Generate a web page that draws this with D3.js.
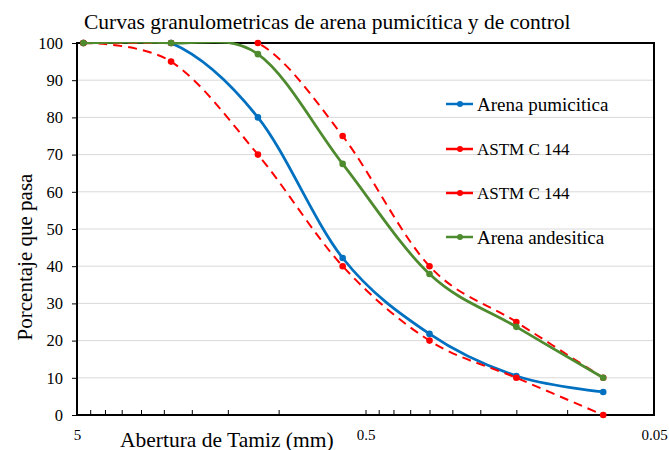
<!DOCTYPE html>
<html><head><meta charset="utf-8">
<script src="https://cdn.jsdelivr.net/npm/d3@7"></script>
<style>body{margin:0;background:#fff}svg{display:block}</style>
</head><body>
<svg id="c" width="669" height="450"></svg>
<script>
const sieves = [4.75, 2.36, 1.18, 0.6, 0.3, 0.15, 0.075];
const pumicitica = [100, 100, 80, 42.2, 21.8, 10.5, 6.2];
const astmLower = [100, 95, 70, 40, 20, 10, 0];
const astmUpper = [100, 100, 100, 75, 40, 25, 10];
const andesitica = [100, 100, 97, 67.5, 37.9, 23.7, 10];
const yTicks = [0, 10, 20, 30, 40, 50, 60, 70, 80, 90, 100];
const xTicks = [5, 0.5, 0.05];
const xTickLabels = ["5", "0.5", "0.05"];
const seriesNames = ["Arena pumicitica", "ASTM C 144", "ASTM C 144", "Arena andesitica"];

const svg = d3.select("#c");
const L = 77, R = 654, T = 43, B = 415;
const x = d3.scaleLog().domain([5, 0.05]).range([L, R]);
const y = d3.scaleLinear().domain([0, 100]).range([B, T]);
const serif = "'Liberation Serif','Times New Roman',serif";

svg.append("defs").append("clipPath").attr("id", "plotclip")
  .append("rect").attr("x", L).attr("y", T - 1).attr("width", R - L).attr("height", B - T + 2);

// gridlines
svg.append("g").selectAll("line").data(yTicks.filter(d => d > 0)).join("line")
  .attr("x1", L).attr("x2", R).attr("y1", d => y(d)).attr("y2", d => y(d))
  .attr("stroke", "#d9d9d9").attr("stroke-width", 1);

// y axis
const yAxis = d3.axisLeft(y).tickValues(yTicks).tickSize(5).tickPadding(9);
const gy = svg.append("g").attr("transform", `translate(${L},0)`).call(yAxis);
gy.select(".domain").remove();
gy.selectAll("line").attr("stroke", "#000");
gy.selectAll("text").attr("font-family", serif).attr("font-size", 16.5).attr("fill", "#000");

// x minor ticks (inside)
const minor = [];
for (let k = 1; k <= 9; k++) { minor.push(0.5 * k); minor.push(0.05 * k); }
const xAxisMinor = d3.axisTop(x).tickValues(minor).tickSize(5).tickFormat("");
const gxm = svg.append("g").attr("transform", `translate(0,${B})`).call(xAxisMinor);
gxm.select(".domain").remove();
gxm.selectAll("line").attr("stroke", "#000");

// x labels
const xAxis = d3.axisBottom(x).tickValues(xTicks).tickSize(0).tickPadding(14)
  .tickFormat((d, i) => xTickLabels[i]);
const gx = svg.append("g").attr("transform", `translate(0,${B})`).call(xAxis);
gx.select(".domain").remove();
gx.selectAll("text").attr("font-family", serif).attr("font-size", 15).attr("fill", "#000");

// frame
svg.append("rect").attr("x", L).attr("y", T).attr("width", R - L).attr("height", B - T)
  .attr("fill", "none").attr("stroke", "#000").attr("stroke-width", 2);

// series
const series = [
  {vals: pumicitica, color: "#0070C0", dash: null, w: 2.75},
  {vals: astmLower, color: "#FF0000", dash: "9,6", w: 2},
  {vals: astmUpper, color: "#FF0000", dash: "9,6", w: 2},
  {vals: andesitica, color: "#4E8A2E", dash: null, w: 2.75}
];
const line = d3.line().x(d => x(d[0])).y(d => y(d[1])).curve(d3.curveCardinal.tension(0));
series.forEach(s => {
  const pts = sieves.map((v, i) => [v, s.vals[i]]);
  svg.append("path").datum(pts).attr("d", line).attr("fill", "none")
    .attr("clip-path", "url(#plotclip)")
    .attr("stroke", s.color).attr("stroke-width", s.w)
    .attr("stroke-dasharray", s.dash);
  svg.append("g").selectAll("circle").data(pts).join("circle")
    .attr("cx", d => x(d[0])).attr("cy", d => y(d[1])).attr("r", 3.3)
    .attr("fill", s.color);
});

// legend
const legY = [104, 149, 193, 237];
const legSize = [19, 17, 17, 19];
series.forEach((s, i) => {
  const g = svg.append("g").attr("transform", `translate(446,${legY[i]})`);
  g.append("line").attr("x1", 0).attr("x2", 27).attr("stroke", s.color).attr("stroke-width", 2.5);
  g.append("circle").attr("cx", 14).attr("r", 3).attr("fill", s.color);
  g.append("text").attr("x", 31).attr("dy", "0.35em").attr("font-family", serif)
    .attr("font-size", legSize[i]).attr("fill", "#000").text(seriesNames[i]);
});

// titles
svg.append("text").attr("x", 84).attr("y", 29).attr("font-family", serif).attr("font-size", 21.5)
  .attr("fill", "#000").text("Curvas granulometricas de arena pumicítica y de control");
svg.append("text").attr("transform", "translate(32,257) rotate(-90)").attr("text-anchor", "middle")
  .attr("font-family", serif).attr("font-size", 21).attr("fill", "#000").text("Porcentaje que pasa");
svg.append("text").attr("x", 120).attr("y", 447).attr("font-family", serif).attr("font-size", 21.5)
  .attr("fill", "#000").text("Abertura de Tamiz (mm)");
</script>
</body></html>
